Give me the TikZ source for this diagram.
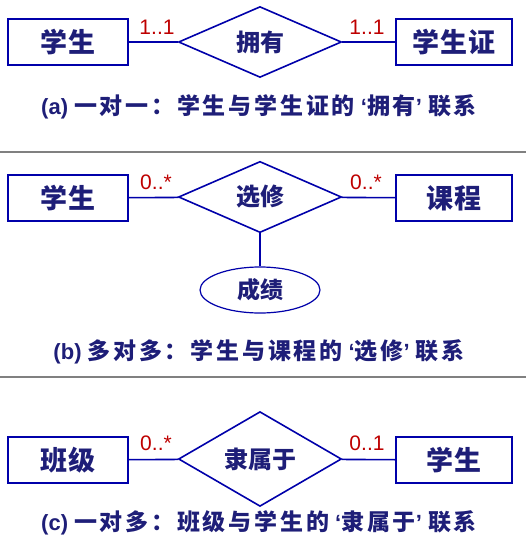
\documentclass[tikz,border=0pt]{standalone}
\usepackage{fontspec}
\setmainfont{Liberation Sans}
\newfontfamily\cjk{Noto Sans CJK SC}
\newfontfamily\cjkwide{Noto Sans CJK SC}[LetterSpace=5]
\newfontfamily\cjkcap{Noto Sans CJK SC}[LetterSpace=12]
\usetikzlibrary{shapes.geometric}

\definecolor{erblue}{RGB}{0,0,170}
\definecolor{ertext}{RGB}{30,30,120}
\definecolor{erred}{RGB}{190,0,0}

\tikzset{
  entity/.style={draw=erblue, line width=1.6pt, minimum width=120pt, minimum height=46pt,
    inner sep=0pt, text=ertext, font=\cjkwide\bfseries\fontsize{27}{27}\selectfont},
  relation/.style={diamond, draw=erblue, line width=1.6pt, minimum width=163pt, minimum height=64pt,
    inner sep=0pt, text=ertext, font=\cjk\bfseries\fontsize{24}{24}\selectfont},
  attrib/.style={ellipse, draw=erblue, line width=1.2pt, minimum width=120pt, minimum height=46pt,
    inner sep=0pt, text=ertext, font=\cjk\bfseries\fontsize{23}{23}\selectfont},
  mult/.style={text=erred, inner sep=0pt, font=\fontsize{21}{21}\selectfont},
  caption/.style={text=ertext, inner sep=0pt, font=\bfseries\fontsize{22}{22}\selectfont},
  link/.style={draw=erblue, line width=1.6pt},
  sepline/.style={draw=gray, line width=1.6pt}
}
\newcommand{\capzh}[1]{{\cjkcap\bfseries\fontsize{23}{23}\selectfont #1}}

\begin{document}
\begin{tikzpicture}[x=1pt, y=-1pt]
        \useasboundingbox (0,0) rectangle (526,541);
        % (a)
        \node[entity] (A1) at (68, 42) {学生};
        \node[relation] (A2) at (260, 42) {拥有};
        \node[entity, minimum width=116pt] (A3) at (454, 42) {学生证};
        \draw[link] (A1) -- (A2) -- (A3);
        \node[mult] (A4) at (157, 27) {1..1};
        \node[mult] (A5) at (367, 27) {1..1};
        \node[caption] (A6) at (259, 107) {(a) \capzh{一对一：学生与学生证的} ‘\capzh{拥有}’ \capzh{联系}};
        \draw[sepline] (0, 152) -- (526, 152);
        % (b)
        \node[entity] (B1) at (68, 198) {学生};
        \node[relation] (B2) at (260, 197) {选修};
        \node[entity, minimum width=116pt] (B3) at (454, 198) {课程};
        \node[attrib] (B4) at (260, 290) {成绩};
        \draw[link] (B1) -- (B2) -- (B3);
        \draw[link] (B2) -- (B4);
        \node[mult] (B5) at (156, 182) {0..*};
        \node[mult] (B6) at (366, 182) {0..*};
        \node[caption] (B7) at (259, 352) {(b) \capzh{多对多：学生与课程的} ‘\capzh{选修}’ \capzh{联系}};
        \draw[sepline] (0, 377) -- (526, 377);
        % (c)
        \node[entity] (C1) at (68, 460) {班级};
        \node[relation] (C2) at (260, 459) {隶属于};
        \node[entity, minimum width=116pt] (C3) at (454, 460) {学生};
        \draw[link] (C1) -- (C2) -- (C3);
        \node[mult] (C4) at (156, 443) {0..*};
        \node[mult] (C5) at (367, 443) {0..1};
        \node[caption] (C6) at (259, 523) {(c) \capzh{一对多：班级与学生的} ‘\capzh{隶属于}’ \capzh{联系}};
    \end{tikzpicture}
\end{document}
